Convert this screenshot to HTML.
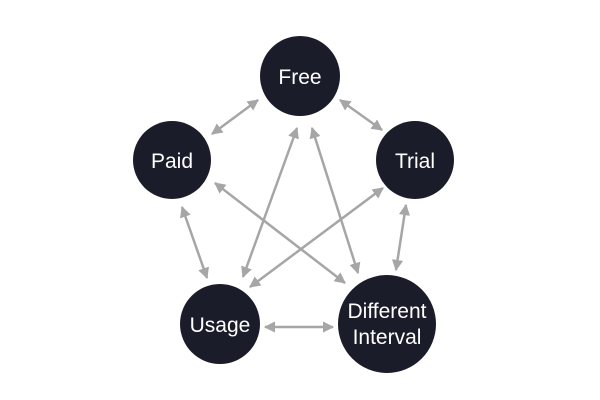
<!DOCTYPE html>
<html><head><style>body{margin:0;background:#fff}svg{display:block}</style></head><body>
<svg width="600" height="400" viewBox="0 0 600 400" xmlns="http://www.w3.org/2000/svg">
<defs>
<marker id="a" viewBox="0 0 10 10" refX="9" refY="5" markerWidth="4.5" markerHeight="4.5" orient="auto-start-reverse"><path d="M0,0 L10,5 L0,10 z" fill="#a6a6a6"/></marker>
</defs>
<g stroke="#a6a6a6" stroke-width="2.5" marker-start="url(#a)" marker-end="url(#a)">
<line x1="258" y1="100" x2="212" y2="134"/>
<line x1="340" y1="100" x2="382" y2="130"/>
<line x1="182" y1="207" x2="207" y2="278"/>
<line x1="406" y1="205" x2="396" y2="270"/>
<line x1="265" y1="327" x2="333" y2="327"/>
<line x1="297" y1="128" x2="243" y2="277"/>
<line x1="312" y1="128" x2="358" y2="273"/>
<line x1="215" y1="183" x2="345" y2="283"/>
<line x1="383" y1="188" x2="250" y2="287"/>
</g>
<g fill="#1b1c2a">
<circle cx="300" cy="76" r="40"/>
<circle cx="172" cy="160" r="39"/>
<circle cx="415" cy="160" r="39"/>
<circle cx="220" cy="324" r="40"/>
<circle cx="387" cy="324" r="49"/>
</g>
<g fill="#fff" font-family="Liberation Sans, sans-serif" font-size="21" text-anchor="middle">
<text x="300" y="84">Free</text>
<text x="172" y="168">Paid</text>
<text x="415" y="168">Trial</text>
<text x="220" y="332">Usage</text>
<text x="387" y="318">Different</text>
<text x="387" y="344">Interval</text>
</g>
</svg>
</body></html>
